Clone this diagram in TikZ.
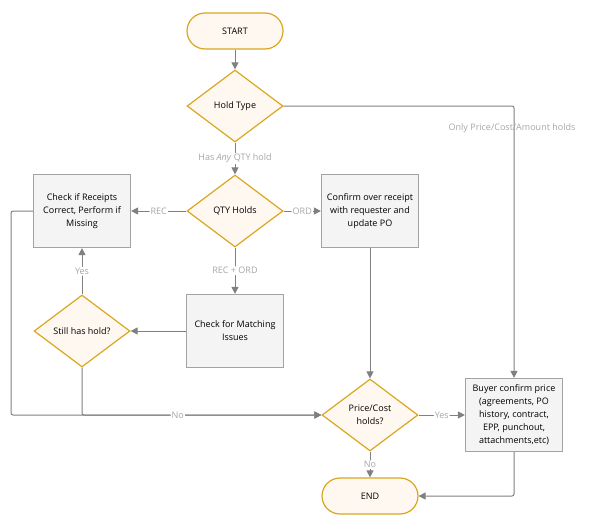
\documentclass[tikz,border=0pt]{standalone}
\usepackage{fontspec}
\setmainfont{Open Sans}
\usetikzlibrary{shapes.geometric,arrows.meta}
\definecolor{gold}{HTML}{D9A61E}
\definecolor{cream}{HTML}{FFF8F0}
\definecolor{boxline}{HTML}{A3A3A3}
\definecolor{boxfill}{HTML}{F4F4F4}
\definecolor{conn}{HTML}{808080}
\definecolor{lblgray}{HTML}{A6A6A6}
\begin{document}
\begin{tikzpicture}[x=1pt,y=-1pt,
  font=\fontsize{9}{13}\selectfont,
  decision/.style={diamond, draw=gold, fill=cream, line width=1.2pt,
    minimum width=96pt, minimum height=72pt, inner sep=0pt, align=center},
  terminal/.style={rectangle, rounded corners=18pt, draw=gold, fill=cream,
    line width=1.2pt, minimum width=96pt, minimum height=36pt, align=center},
  process/.style={rectangle, draw=boxline, fill=boxfill, line width=1.2pt,
    minimum width=97pt, minimum height=73pt, inner sep=1pt, align=center},
  conn/.style={draw=conn, line width=1pt, rounded corners=2pt,
    -{Triangle[length=7pt,width=7pt]}},
  lbl/.style={text=lblgray, fill=white, inner sep=1pt},
  lblnofill/.style={text=lblgray, inner sep=1pt}
]
\useasboundingbox (0,0) rectangle (593,530);

\node[terminal] (start) at (235,31) {START};
\node[decision] (hold) at (235,106) {Hold Type};
\node[decision] (qty) at (235,211) {QTY Holds};
\node[process] (receipts) at (82,211) {Check if Receipts\\Correct, Perform if\\Missing};
\node[process] (confirm) at (370,211) {Confirm over receipt\\with requester and\\update PO};
\node[process] (matching) at (235,331) {Check for Matching\\Issues};
\node[decision] (still) at (82,331) {Still has hold?};
\node[decision] (price) at (370,415) {Price/Cost\\holds?};
\node[process] (buyer) at (514,415) {Buyer confirm price\\(agreements, PO\\history, contract,\\EPP, punchout,\\attachments,etc)};
\node[terminal] (end) at (370,496) {END};

\coordinate (jl) at (11,415);
\coordinate (jm) at (82,415);

\draw[conn] (start) -- (hold);
\draw[conn] (hold.east) -| (buyer.north);
\node[lblnofill] (lonly) at (512,128) {Only Price/Cost/Amount holds};
\draw[conn] (hold) -- node[lbl] {Has \textit{Any} QTY hold} (qty);
\draw[conn] (qty.west) -- node[lbl] {REC} (receipts.east);
\draw[conn] (qty.east) -- node[lbl] {ORD} (confirm.west);
\draw[conn] (qty.south) -- node[lbl] {REC + ORD} (matching.north);
\draw[conn] (matching.west) -- (still.east);
\draw[conn] (still.north) -- node[lbl] {Yes} (receipts.south);
\draw[conn] (receipts.west) -| (jl) -- (price.west);
\draw[conn] (still.south) -- (jm) -- node[lbl,pos=0.4] {No} (price.west);
\draw[conn] (confirm.south) -- (price.north);
\draw[conn] (price.east) -- node[lbl] {Yes} (buyer.west);
\draw[conn] (price.south) -- node[lbl] {No} (end.north);
\draw[conn] (buyer.south) |- (end.east);
\end{tikzpicture}
\end{document}
